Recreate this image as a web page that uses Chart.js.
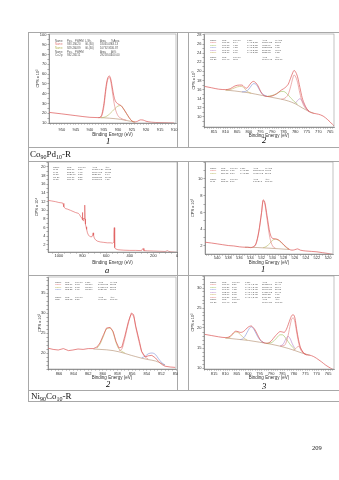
<!DOCTYPE html>
<html>
<head>
<meta charset="utf-8">
<script src="https://cdn.jsdelivr.net/npm/chart.js@4.4.1/dist/chart.umd.min.js"></script>
<style>
  body { margin: 0; width: 339px; height: 480px; position: relative; overflow: hidden; background: #fff; font-family: "Liberation Serif", serif; }
  .box { position: absolute; }
  .hl { position: absolute; height: 1px; background: #a8a8a8; }
  .vl { position: absolute; width: 1px; background: #a8a8a8; }
  .lab { position: absolute; font-style: italic; font-size: 8.5px; line-height: 9px; color: #000; will-change: transform; }
  .cap { position: absolute; font-size: 9px; line-height: 10px; color: #111; white-space: nowrap; will-change: transform; }
  .cap sub { font-size: 6px; vertical-align: -1.5px; }
  .pg { position: absolute; font-size: 6.5px; line-height: 7px; color: #222; will-change: transform; }
</style>
</head>
<body>
<!-- table rules -->
<div class="hl" style="left:28px;top:32px;width:311px"></div>
<div class="hl" style="left:28px;top:147px;width:311px"></div>
<div class="hl" style="left:28px;top:161px;width:311px"></div>
<div class="hl" style="left:28px;top:275px;width:311px"></div>
<div class="hl" style="left:28px;top:390px;width:311px"></div>
<div class="hl" style="left:28px;top:401px;width:311px"></div>
<div class="vl" style="left:28px;top:32px;height:370px"></div>
<div class="vl" style="left:177px;top:32px;height:115px"></div>
<div class="vl" style="left:188px;top:32px;height:115px"></div>
<div class="vl" style="left:177px;top:161px;height:229px"></div>
<div class="vl" style="left:188px;top:161px;height:229px"></div>

<div class="box" style="left:28px;top:33px;width:150px;height:104px"><canvas id="c1"></canvas></div>
<div class="box" style="left:188px;top:33px;width:149px;height:105px"><canvas id="c2"></canvas></div>
<div class="box" style="left:28px;top:161px;width:150px;height:104px"><canvas id="c3"></canvas></div>
<div class="box" style="left:188px;top:161px;width:149px;height:104px"><canvas id="c4"></canvas></div>
<div class="box" style="left:28px;top:276px;width:150px;height:104px"><canvas id="c5"></canvas></div>
<div class="box" style="left:188px;top:275px;width:149px;height:105px"><canvas id="c6"></canvas></div>

<div class="lab" style="left:106px;top:137px">1</div>
<div class="lab" style="left:262px;top:136px">2</div>
<div class="cap" style="left:30px;top:149px">Co<sub>90</sub>Pd<sub>10</sub>-R</div>
<div class="lab" style="left:105px;top:266px">а</div>
<div class="lab" style="left:261px;top:265px">1</div>
<div class="lab" style="left:106px;top:380px">2</div>
<div class="lab" style="left:262px;top:382px">3</div>
<div class="cap" style="left:31px;top:390.5px">Ni<sub>90</sub>Co<sub>10</sub>-R</div>
<div class="pg" style="left:312px;top:444px">209</div>

<script>
// ---------- panel 1 (Co90Pd10-R, "1")
const p1Energy = [955,950,945,940,937,936,935,934.5,934,933.5,933,932.5,932,931.5,931,930,929,928,927,926,925,924,923,922,921,920,918,915,912,910];
const p1Counts = [21,19.3,17.5,15.8,15.5,17,30,42,52,57,58,54,46,38,33,29.5,28,24.5,20,15.5,12,11,11.8,13.2,13,11.8,10.8,10.4,10.2,10];
const p1BgE = [937,935,933,931,929,927,925,924];
const p1BgY = [15.5,15.3,14.9,14.4,13.7,12.6,11.5,11];
const p1AE = [937,936,935,934.5,934,933.5,933,932.5,932,931.5,931,930,929,928,927];
const p1AY = [15.5,16.3,27,39,49.5,55.5,56.5,51.5,42,32.5,25,17.5,15,13.6,12.8];
const p1BE = [936,935,934,933,932,931,930,929,928,927,926,925,924];
const p1BY = [15.4,15.8,17,19.2,22,25,27.3,27.8,24.3,19.7,15.3,12,11];
const p1XTicks = [950,945,940,935,930,925,920,915,910];
const p1YTicks = [10,20,30,40,50,60,70,80,90,100];
const p1Table = [
  ['Name','Pos.','FWHM','L.Sh.','Area','%Area'],
  ['Name','933.19','4.20','GL(30)','18465.09','63.13'],
  ['Name','929.26','4.89','GL(30)','10792.91','36.87'],
  ['Name','Pos.','FWHM','Area','At%'],
  ['Cu 2p','932.26','3.11','29258.00','100.00']
];

// ---------- panel 2 (Co90Pd10-R, "2")
const p2Energy = [819,816,813,810,808,806,804,803,802,801,800,799,798,797,796,795,794,792,790,788,786,785,784,783,782,781,780.5,780,779,778,777,776,775,774,772,770,768,766,764,763];
const p2Counts = [16.7,16.4,16.1,16.0,16.2,16.8,17.0,17.0,16.6,16.3,16.8,17.5,17.8,17.5,16.8,15.7,14.9,14.5,14.6,15.1,15.9,16.2,16.6,17.2,18.5,19.8,20.2,20.0,18.8,16.5,14.2,12.8,11.8,11.2,10.8,10.6,10.2,9.4,8.4,7.9];
const p2BgE = [810,806,803,800,797,794,790,786,783,780,777,774,772];
const p2BgY = [15.9,15.7,15.5,15.3,15.0,14.7,14.3,13.9,13.5,12.9,12.0,11.2,10.8];
const p2AE = [786,785,784,783,782,781,780.5,780,779,778,777,776,775,774];
const p2AY = [13.9,14.0,14.3,15.0,16.6,18.6,19.2,19.0,17.6,15.2,13.3,12.2,11.6,11.2];
const p2BE = [792,790,788,786,785,784,783,782,781,780.5,780,779];
const p2BY = [14.5,14.7,15.1,15.6,15.6,15.3,14.8,14.2,13.7,13.4,13.2,12.8];
const p2CE = [803,802,801,800,799,798,797,796,795,794,792];
const p2CY = [15.5,15.55,15.7,16.1,16.8,17.3,17.2,16.5,15.6,15.0,14.5];
const p2DE = [780,779,778,777,776,775,774];
const p2DY = [13.0,13.6,14.0,13.5,12.5,11.7,11.2];
const p2EE = [810,808,806,804,803,802,801,800,799];
const p2EY = [15.9,16.0,16.4,16.7,16.7,16.3,15.8,15.4,15.2];
const p2XTicks = [815,810,805,800,795,790,785,780,775,770,765];
const p2YTicks = [10,12,14,16,18,20,22,24,26,28];
const p2Table = [
  ['Name','Pos.','FWHM','L.Sh.','Area','%Area'],
  ['Name','780.75','3.44','LA(1.2,85)','13009.23','38.08'],
  ['Name','786.08','4.53','LA(1.2,85)','4505.97','8.31'],
  ['Name','796.58','4.23','LA(1.2,85)','13593.23','9.05'],
  ['Name','778.08','4.08','LA(1.2,85)','5092.05','45.07'],
  ['Name','803.16','3.00','LA(1.2,85)','3353.63','7.35'],
  ['Name','Pos.','FWHM','Area','At%'],
  ['Co 2p','784.40','area','71648.45','100.00']
];

// ---------- panel а (survey)
const p3Energy = [1092,1060,1028,1000,972,965,958,945,930,902,860,835,825,815,805,803,801,798,794,790,786,782,780,778,775,770,765,758,750,740,730,720,714,710,706,700,690,675,650,620,590,560,545,538,534,531,529,526,520,500,450,400,350,300,292,286,280,250,200,150,100,80,72,50,20,0];
const p3Counts = [12.3,12.15,12.0,11.8,11.7,11.6,10.8,10.4,10.3,10.0,9.5,9.3,9.0,8.5,8.2,8.0,9.5,7.8,7.6,8.2,8.0,10.5,11.2,8.0,6.8,6.2,5.6,4.8,4.3,4.0,3.9,3.9,4.3,4.8,4.2,3.6,3.2,2.9,2.7,2.6,2.5,2.5,2.4,2.6,4.5,6.0,4.0,1.4,1.1,0.9,0.8,0.75,0.75,0.7,1.1,1.2,0.7,0.65,0.6,0.55,0.5,0.7,0.55,0.4,0.35,0.3];
const p3XTicks = [1000,800,600,400,200,0];
const p3YTicks = [2,4,6,8,10,12,14,16,18,20];
const p3Table = [
  ['Name','Pos.','FWHM','Area','At%'],
  ['O 1s','531.76','3.27','178894.24','63.83'],
  ['C 1s','283.76','4.91','15964.75','11.53'],
  ['Ni 2p','1036.76','3.21','3527.28','1.64'],
  ['Co 2p','780.16','3.21','73085.38','11.83'],
  ['Ni 3p','139.76','3.21','10065.18','4.27']
];

// ---------- panel 1 (Ni90Co10-R)
const p4Energy = [542.2,541,540,539,538,537,536,535,534.5,534,533.5,533,532.5,532,531.7,531.4,531,530.5,530,529.5,529,528.5,528,527.5,527,526.5,526,525.5,525,524,523,522,521,520,519.2];
const p4Counts = [2.45,2.35,2.25,2.15,2.05,2.0,1.9,1.85,1.85,1.8,1.9,2.3,3.7,6.0,7.5,7.2,5.6,3.6,2.9,2.85,2.75,2.5,2.15,1.85,1.6,1.5,1.55,1.65,1.5,1.4,1.35,1.3,1.2,1.1,1.0];
const p4BgE = [535,533,531,529,527.5,527];
const p4BgY = [1.85,1.82,1.75,1.67,1.6,1.58];
const p4AE = [533.5,533,532.5,532,531.7,531.4,531,530.5,530,529.5];
const p4AY = [1.85,2.2,3.6,5.9,7.4,7.0,5.2,3.0,2.0,1.75];
const p4BE = [531.7,531.4,531,530.5,530,529.5,529,528.5,528,527.5,527];
const p4BY = [1.8,1.85,2.0,2.3,2.7,2.8,2.7,2.45,2.1,1.8,1.6];
const p4XTicks = [540,538,536,534,532,530,528,526,524,522,520];
const p4YTicks = [2,4,6,8,10];
const p4Table = [
  ['Name','Pos.','FWHM','L.Sh.','Area','%Area'],
  ['Name','531.60','1.56','LA(1.53)','115905.06','68.05'],
  ['Name','529.75','3.54','LA(1.53)','47954.92','31.95'],
  ['Name','Pos.','FWHM','Area','At%'],
  ['O 1s','531.01','2.69','1.19E+5','100.00']
];

// ---------- panel 2 (Ni90Co10-R)
const p5Energy = [867.5,866.8,866.1,865.4,864.7,864.1,863.4,862.7,862,861.3,860.8,860.4,859.9,859.5,859,858.6,858.2,857.8,857.4,857,856.5,856.1,855.8,855.5,855,854.7,854.2,853.8,853.3,852.8,852.4,851.9,851.5,850.8,850.1];
const p5Counts = [21.2,20.9,20.75,21.1,20.6,20.75,21,20.9,21.1,21.1,21.5,22.5,24.6,26.25,26.4,25.4,22.9,21.25,21.5,24.2,27.9,30,29.6,26.7,22.9,20.4,19,19.3,19.4,18.75,17.9,17.1,16.7,16.5,16.4];
const p5BgE = [861.3,860.4,859.5,858.6,857.8,857,856.1,855.5,854.7,853.8,852.8,851.9,851.5];
const p5BgY = [21.0,20.9,20.8,20.6,20.3,19.9,19.4,19.1,18.7,18.35,18.0,17.3,17.0];
const p5AE = [857.8,857.4,857,856.5,856.1,855.8,855.5,855,854.7,854.2,853.8];
const p5AY = [20.6,21.0,23.6,27.5,29.6,29.2,26.4,22.4,20.4,19.0,18.5];
const p5BE = [860.8,860.4,859.9,859.5,859,858.6,858.2,857.8,857.4,857];
const p5BY = [21.2,22.2,24.3,26.0,26.2,25.1,22.6,21.0,20.4,20.0];
const p5CE = [854.7,854.2,853.8,853.3,852.8,852.4,851.9,851.5];
const p5CY = [18.8,19.2,19.8,20.0,19.6,18.6,17.5,17.0];
const p5XTicks = [866,864,862,860,858,856,854,852,850];
const p5YTicks = [20,25,30,35];
const p5Table = [
  ['Name','Pos.','FWHM','L.Sh.','Area','%Area'],
  ['Name','855.86','3.08','GL(30)','24608.85','52.85'],
  ['Name','859.67','5.05','GL(30)','14926.71','32.05'],
  ['Name','853.35','1.61','GL(30)','7026.82','15.10'],
  ['Name','Pos.','FWHM','Area','At%'],
  ['Ni2p','855.63','2.27','4646.27','100.00']
];

// ---------- panel 3 (Ni90Co10-R)
const p6Energy = [819,816,813,810,808,806.5,805.5,804.5,803.5,802.5,801.5,800.5,799.5,798.7,797.8,797,796,795,794,793,792,791,790,789,788,787,786,785,784.3,783.5,782.5,781.5,780.8,780.2,779.5,778.8,778,777.3,776.5,775.5,774.5,773,771.5,770,768,766,764,762.8];
const p6Counts = [18.4,18.1,17.8,17.6,17.9,18.8,19.2,19.1,18.9,19.0,19.4,20.0,20.4,20.5,20.1,19.5,18.4,17.3,16.6,16.3,16.2,16.3,16.7,17.4,18.1,18.7,19.1,19.0,18.9,19.4,20.8,22.4,23.2,23.3,22.4,19.8,17.2,15.5,14.4,13.6,13.3,13.2,12.9,12.4,11.6,10.7,10.0,9.6];
const p6BgE = [810,805,800,795,790,786,782.5,779.5,776.5,773];
const p6BgY = [17.5,17.2,16.9,16.45,15.95,15.45,14.9,14.35,13.75,13.2];
const p6AE = [786,784.3,783.5,782.5,781.5,780.8,780.2,779.5,778.8,778,777.3,776.5,775.5,774.5];
const p6AY = [15.5,15.6,16.2,18.2,21.0,22.4,22.5,21.4,19.0,16.6,15.0,14.1,13.6,13.35];
const p6BE = [792,790,788,787,786,785,784.3,783.5,782.5,781.5,780.5,779.5];
const p6BY = [16.15,16.3,17.2,17.9,18.3,18.3,18.0,17.4,16.6,15.8,15.2,14.6];
const p6CE = [803.5,802.5,801.5,800.5,799.5,798.7,797.8,797,796,795,794,793];
const p6CY = [17.1,17.3,17.9,18.9,19.9,20.3,19.9,19.1,18.0,17.1,16.6,16.3];
const p6DE = [786,785,784.3,783.5,782.5,781.5,780.8,780.2,779.5];
const p6DY = [15.5,15.8,16.3,17.3,17.9,17.2,16.2,15.5,14.9];
const p6EE = [810,808,806.5,805.5,804.5,803.5,802.5,801.5,800.5];
const p6EY = [17.5,17.7,18.6,19.0,18.9,18.4,17.8,17.3,17.0];
const p6FE = [780.2,779.5,778.8,778,777.3,776.5,775.5,774.5];
const p6FY = [14.5,14.7,15.1,15.4,15.1,14.4,13.7,13.35];
const p6XTicks = [815,810,805,800,795,790,785,780,775,770,765];
const p6YTicks = [10,15,20,25,30];
const p6Table = [
  ['Name','Pos.','FWHM','L.Sh.','Area','%Area'],
  ['Name','780.69','3.29','LA(1.4,2.45)','21052.67','29.44'],
  ['Name','786.36','3.45','LA(1.4,2.45)','12985.40','15.94'],
  ['Name','798.69','4.32','LA(1.4,2.45)','15496.20','20.83'],
  ['Name','782.60','3.05','LA(1.4,2.45)','14759.12','17.47'],
  ['Name','805.09','3.65','LA(1.4,2.45)','8266.22','9.89'],
  ['Name','777.57','3.05','LA(1.4,2.45)','2404.23','3.23'],
  ['Name','Pos.','FWHM','Area','At%'],
  ['Co 2p','784.40','3.33','71649.28','100.00']
];

// ---------- drawing
Chart.defaults.font.family = '"Liberation Sans", Arial, sans-serif';

const RED = '#dd5555', PINK = '#e07a7a', OLIVE = '#b5b55a', GREEN = '#9cbf5a',
      BLUE = '#7f8fd8', PURPLE = '#b47fc9', YEL = '#c9b25f', BROWN = '#b08a6a';

const pts = (E, Y) => E.map((e, i) => ({ x: e, y: Y[i] }));
const line = (E, Y, color, w, smooth) => ({
  data: pts(E, Y), borderColor: color, borderWidth: w || 0.6, pointRadius: 0, fill: false,
  cubicInterpolationMode: smooth === false ? 'default' : 'monotone', tension: 0
});

function tickList(min, max, step) {
  const out = [];
  for (let k = Math.ceil(min / step - 1e-9); k * step <= max + 1e-9; k++) out.push(+(k * step).toFixed(3));
  return out;
}

// plot frame + fit table
function framePlugin(t) {
  return {
    id: 'frame',
    afterDraw(chart) {
      const { ctx, chartArea: a } = chart;
      ctx.save();
      ctx.strokeStyle = '#9a9a9a';
      ctx.lineWidth = 0.6;
      ctx.strokeRect(a.left, a.top, a.right - a.left, a.bottom - a.top);
      ctx.font = t.size + 'px "Liberation Sans"';
      ctx.textBaseline = 'middle';
      t.rows.forEach((row, r) => {
        const cols = row.length === 5 && t.cols.length === 6 ? [0, 1, 2, 4, 5].map(i => t.cols[i]) : t.cols;
        row.forEach((cell, c) => {
          ctx.fillStyle = c === 0 && t.colors[r] ? t.colors[r] : '#555';
          ctx.fillText(cell, a.left + cols[c], a.top + t.ys[r]);
        });
      });
      ctx.restore();
    }
  };
}

function makeChart(id, o) {
  const xAll = tickList(o.x[0], o.x[1], o.xMinor);
  const yAll = tickList(o.y[0], o.y[1], o.yMinor);
  const isMajor = (list, v) => list.some(m => Math.abs(m - v) < 1e-6);
  new Chart(document.getElementById(id), {
    type: 'line',
    data: { datasets: o.sets },
    options: {
      responsive: true, maintainAspectRatio: false, animation: false,
      layout: { padding: { top: 1, right: o.padR, left: 0, bottom: 0 } },
      plugins: { legend: { display: false }, tooltip: { enabled: false } },
      scales: {
        x: {
          type: 'linear', reverse: true, min: o.x[0], max: o.x[1],
          border: { color: '#444', width: 0.6 },
          grid: { drawOnChartArea: false, tickLength: 1.5, color: '#444', lineWidth: 0.5 },
          ticks: { autoSkip: false, maxRotation: 0, padding: o.xPad, color: '#333', font: { size: 4 },
                   callback: v => isMajor(o.xMajor, v) ? String(v) : '' },
          title: { display: true, text: 'Binding Energy (eV)', color: '#333', font: { size: 4.5 }, padding: 0 },
          afterBuildTicks: s => { s.ticks = xAll.map(v => ({ value: v })); },
          afterFit: s => { s.height = o.xH; s.paddingLeft = 0; s.paddingRight = 0; }
        },
        y: {
          type: 'linear', min: o.y[0], max: o.y[1],
          border: { color: '#444', width: 0.6 },
          grid: { drawOnChartArea: false, tickLength: 1.5, color: '#444', lineWidth: 0.5 },
          ticks: { autoSkip: false, padding: 1, color: '#333', font: { size: 4 },
                   callback: v => isMajor(o.yMajor, v) ? String(v) : '' },
          title: { display: true, text: o.yTitle, color: '#333', font: { size: 4 }, padding: { top: o.yTitlePad, bottom: 0 } },
          afterBuildTicks: s => { s.ticks = yAll.map(v => ({ value: v })); },
          afterFit: s => { s.width = o.yW; s.paddingTop = 0; s.paddingBottom = 0; }
        }
      }
    },
    plugins: [framePlugin(o.table)]
  });
}

makeChart('c1', {
  x: [909.3, 954.6], xMajor: p1XTicks, xMinor: 1, xPad: 2.5, xH: 14,
  y: [10, 101], yMajor: p1YTicks, yMinor: 5, yW: 21, yTitle: 'CPS x 10²', yTitlePad: 7.6, padR: 2,
  table: { rows: p1Table, colors: [null, PINK, OLIVE, null, null], ys: [7, 10.5, 14, 18, 21.5], cols: [6, 18, 26, 36, 51, 62], size: 2.8 },
  sets: [line(p1Energy, p1Counts, RED, 0.7), line(p1AE, p1AY, PINK), line(p1BE, p1BY, OLIVE), line(p1BgE, p1BgY, BROWN)]
});

makeChart('c2', {
  x: [763.3, 819.3], xMajor: p2XTicks, xMinor: 1, xPad: 0.5, xH: 11,
  y: [7.8, 28.2], yMajor: p2YTicks, yMinor: 1, yW: 16, yTitle: 'CPS x 10³', yTitlePad: 3.6, padR: 3,
  table: { rows: p2Table, colors: [null, PINK, GREEN, BLUE, PURPLE, YEL, null, null], ys: [6, 8.5, 11, 13.5, 16, 18.5, 23, 25.5], cols: [6, 18, 29, 43, 58, 71], size: 2.4 },
  sets: [line(p2Energy, p2Counts, RED, 0.7), line(p2AE, p2AY, PINK), line(p2BE, p2BY, GREEN), line(p2CE, p2CY, BLUE),
         line(p2DE, p2DY, PURPLE), line(p2EE, p2EY, YEL), line(p2BgE, p2BgY, BROWN)]
});

makeChart('c3', {
  x: [0, 1092], xMajor: p3XTicks, xMinor: 50, xPad: 0, xH: 13,
  y: [0.38, 21.15], yMajor: p3YTicks, yMinor: 1, yW: 20, yTitle: 'CPS x 10⁴', yTitlePad: 6.6, padR: 1,
  table: { rows: p3Table, colors: [], ys: [5, 7.5, 10, 12.5, 15, 17.5], cols: [5, 19, 30, 44, 57], size: 2.4 },
  sets: [line(p3Energy, p3Counts, RED, 0.6, false)]
});

makeChart('c4', {
  x: [519.1, 542.2], xMajor: p4XTicks, xMinor: 0.5, xPad: 0, xH: 11,
  y: [1.04, 12.03], yMajor: p4YTicks, yMinor: 1, yW: 17, yTitle: 'CPS x 10³', yTitlePad: 2.6, padR: 4,
  table: { rows: p4Table, colors: [null, PINK, OLIVE, null, null], ys: [6, 8.5, 11, 17, 19.5], cols: [5, 16, 25, 35, 48, 60], size: 2.4 },
  sets: [line(p4Energy, p4Counts, RED, 0.7), line(p4AE, p4AY, PINK), line(p4BE, p4BY, OLIVE), line(p4BgE, p4BgY, BROWN)]
});

makeChart('c5', {
  x: [850.0, 867.5], xMajor: p5XTicks, xMinor: 0.5, xPad: 1, xH: 11,
  y: [16, 39], yMajor: p5YTicks, yMinor: 1, yW: 20, yTitle: 'CPS x 10²', yTitlePad: 9.6, padR: 2,
  table: { rows: p5Table, colors: [null, PINK, OLIVE, BLUE, null, null], ys: [5, 7.5, 10, 12.5, 20, 22.5], cols: [7, 17, 27, 37, 50, 62], size: 2.4 },
  sets: [line(p5Energy, p5Counts, RED, 0.7, false), line(p5AE, p5AY, PINK), line(p5BE, p5BY, OLIVE), line(p5CE, p5CY, BLUE), line(p5BgE, p5BgY, BROWN)]
});

makeChart('c6', {
  x: [762.4, 819.4], xMajor: p6XTicks, xMinor: 1, xPad: 0.5, xH: 11,
  y: [9.75, 33], yMajor: p6YTicks, yMinor: 1, yW: 16, yTitle: 'CPS x 10²', yTitlePad: 2.6, padR: 3,
  table: { rows: p6Table, colors: [null, PINK, GREEN, BLUE, PURPLE, YEL, PINK, null, null], ys: [6, 8.5, 11, 13.5, 16, 18.5, 21, 23.5, 26], cols: [6, 18, 28, 41, 58, 71], size: 2.4 },
  sets: [line(p6Energy, p6Counts, RED, 0.7), line(p6AE, p6AY, PINK), line(p6BE, p6BY, GREEN), line(p6CE, p6CY, BLUE),
         line(p6DE, p6DY, PURPLE), line(p6EE, p6EY, YEL), line(p6FE, p6FY, PINK), line(p6BgE, p6BgY, BROWN)]
});
</script>
</body>
</html>
